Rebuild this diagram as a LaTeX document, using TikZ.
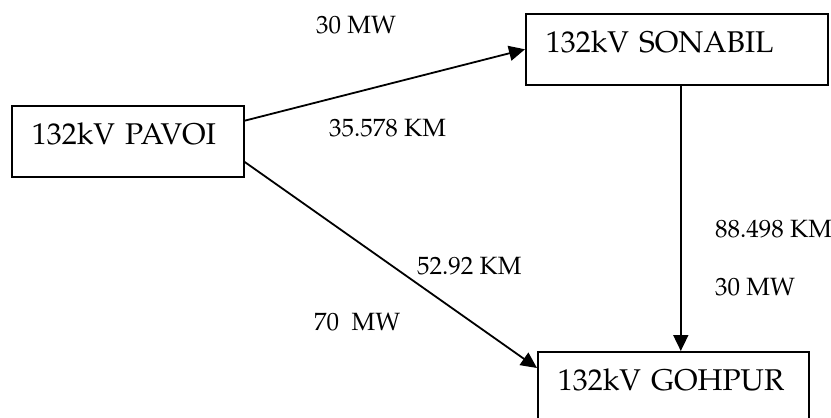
\documentclass[tikz,border=0pt]{standalone}
\usepackage[T1]{fontenc}
\usepackage{mathpazo}
\usepackage{tikz}
\usetikzlibrary{
	arrows.meta,
	calc,
	positioning,
	}

\tikzset{
	station/.style={draw, line width=1.6pt, anchor=north west, inner xsep=20pt, inner ysep=18pt,
		text height=21pt, text depth=14pt, align=left, font=\fontsize{30}{36}\selectfont},
	lbl/.style={anchor=base west, inner sep=0pt, font=\fontsize{25}{30}\selectfont},
	flow/.style={line width=1.8pt, -{Triangle[length=16pt, width=15pt]}},
}

\begin{document}
\begin{tikzpicture}[x=1pt, y=-1pt]
		\useasboundingbox (0,0) rectangle (831,418);
		\node[station, text width=192pt] (pavoi) at (11,105) {\mbox{132kV PAVOI}};
		\node[station, text width=262pt] (sonabil) at (525,13) {\mbox{132kV SONABIL}};
		\node[station, text width=231pt] (gohpur) at (537,351) {\mbox{132kV GOHPUR}};
		\node[lbl] (mwsonabil) at (316,33) {30 MW};
		\node[lbl] (kmsonabil) at (329,136) {35.578 KM};
		\node[lbl] (kmgohpur) at (715,237) {88.498 KM};
		\node[lbl] (mwgohpur) at (715,295) {30 MW};
		\node[lbl] (kmpavoi) at (417,274) {52.92 KM};
		\node[lbl] (mwpavoi) at (314,330) {70\ \ MW};
		\draw[flow] (pavoi.10) -- (sonabil.west);
		\draw[flow] (pavoi.-10) -- ([yshift=-17pt]gohpur.north west);
		\draw[flow] ([xshift=4pt]sonabil.south) -- ([xshift=4pt]sonabil.south |- gohpur.north);
	\end{tikzpicture}
\end{document}
